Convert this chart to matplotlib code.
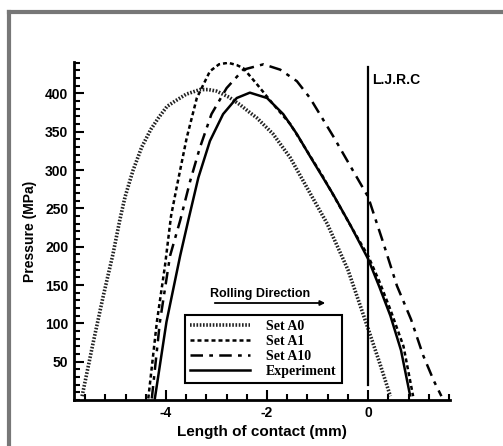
import matplotlib
matplotlib.use("Agg")
import matplotlib.pyplot as plt
from matplotlib.lines import Line2D
from matplotlib.ticker import MultipleLocator

plt.rcParams["axes.unicode_minus"] = False

# ---- data ----
a0_x = [-5.66, -5.45, -5.24, -5.05, -4.91, -4.81, -4.65, -4.48, -4.3, -4.15,
        -3.98, -3.82, -3.6, -3.33, -3.16, -3.0, -2.75, -2.53, -2.34, -2.2,
        -1.88, -1.54, -1.21, -0.81, -0.4, 0.0, 0.22, 0.44]
a0_y = [5, 72, 136, 190, 236, 265, 300, 330, 353, 368,
        383, 390, 399, 405, 405, 403, 395, 385, 375, 368,
        347, 316, 277, 230, 170, 93, 50, 5]

a1_x = [-4.35, -4.18, -4.02, -3.9, -3.79, -3.59, -3.39, -3.13, -2.95, -2.77,
        -2.6, -2.47, -2.2, -1.88, -1.54, -1.21, -0.9, -0.6, -0.3, 0.0,
        0.22, 0.44, 0.7, 0.89]
a1_y = [2, 102, 175, 240, 277, 342, 394, 429, 438, 440,
        437, 433, 412, 386, 360, 325, 292, 257, 222, 188,
        155, 118, 70, 5]

a10_x = [-4.28, -4.12, -3.92, -3.72, -3.52, -3.33, -3.1, -2.8, -2.47, -2.07,
         -1.74, -1.41, -1.15, -0.69, -0.35, 0.0, 0.3, 0.57, 0.85, 1.09,
         1.3, 1.45]
a10_y = [2, 102, 188, 234, 286, 329, 373, 407, 431, 438,
         431, 416, 394, 344, 305, 265, 205, 149, 105, 58,
         25, 5]

exp_x = [-4.22, -3.99, -3.72, -3.56, -3.36, -3.13, -2.87, -2.6, -2.34, -2.0,
         -1.68, -1.41, -1.15, -0.69, -0.35, 0.0, 0.22, 0.44, 0.65, 0.83]
exp_y = [2, 102, 188, 234, 290, 338, 373, 394, 401, 394,
         373, 347, 318, 268, 228, 184, 148, 110, 65, 6]

ljrc_x = 0.0
ljrc_y = [19, 435]

labels = ["Set A0", "Set A1", "Set A10", "Experiment"]
yticks = [50, 100, 150, 200, 250, 300, 350, 400]
xticks = [-4, -2, 0]

W, H = 503, 446
fig = plt.figure(figsize=(W / 100, H / 100), dpi=100)
ax = fig.add_axes([74 / W, 1 - 400 / H, (450 - 74) / W, (400 - 62) / H])

sans = "Liberation Sans"
serif = "Liberation Serif"

ST_A0 = dict(color="#222", lw=2.6, ls=(0, (0.45, 0.45)))
ST_A1 = dict(color="black", lw=1.8, ls=(0, (1.6, 1.2)))
ST_A10 = dict(color="black", lw=1.8, ls=(0, (5, 2.5, 1.5, 2.5)))
ST_EXP = dict(color="black", lw=1.8)

ax.plot(a0_x, a0_y, **ST_A0)
ax.plot(a1_x, a1_y, **ST_A1)
ax.plot(a10_x, a10_y, **ST_A10)
ax.plot(exp_x, exp_y, **ST_EXP)
ax.plot([ljrc_x, ljrc_x], ljrc_y, color="black", lw=1.6)
ax.text(0.08, 418, "L.J.R.C", fontsize=10, fontweight="bold", family=sans,
        va="center", ha="left")

ax.set_xlim(-5.82, 1.62)
ax.set_ylim(0, 441)
ax.set_xticks(xticks)
ax.set_yticks(yticks)
ax.xaxis.set_minor_locator(MultipleLocator(0.4))
ax.yaxis.set_minor_locator(MultipleLocator(10))
ax.tick_params(which="both", direction="in", width=1.5, top=False, right=False)
ax.tick_params(which="major", length=7, labelsize=10, pad=4)
ax.tick_params(which="minor", length=4)
for t in ax.get_xticklabels() + ax.get_yticklabels():
    t.set_fontweight("bold")
    t.set_family(sans)
ax.spines["top"].set_visible(False)
ax.spines["right"].set_visible(False)
ax.spines["left"].set_linewidth(2)
ax.spines["bottom"].set_linewidth(2)

ax.set_xlabel("Length of contact (mm)", fontsize=11, fontweight="bold",
              family=sans, labelpad=4)
ax.set_ylabel("Pressure (MPa)", fontsize=10, fontweight="bold",
              family=sans, labelpad=6)

handles = [Line2D([], [], **ST_A0), Line2D([], [], **ST_A1),
           Line2D([], [], **ST_A10), Line2D([], [], **ST_EXP)]
leg = ax.legend(handles, labels, loc="lower left",
                bbox_to_anchor=(185 / W, 1 - 383 / H), bbox_transform=fig.transFigure,
                prop={"family": serif, "weight": "bold", "size": 10},
                frameon=True, fancybox=False, edgecolor="black", framealpha=1,
                handlelength=4.3, handletextpad=1.2, labelspacing=0.15,
                borderpad=0.35, borderaxespad=0)
leg.get_frame().set_linewidth(1.5)

fig.text(260 / W, 1 - 294 / H, "Rolling Direction", fontsize=9, fontweight="bold",
         family=sans, ha="center", va="center")
ax.annotate("", xy=(328 / W, 1 - 303 / H), xytext=(212 / W, 1 - 303 / H),
            xycoords="figure fraction", textcoords="figure fraction",
            arrowprops=dict(arrowstyle="-|>", lw=1.3, color="black",
                            mutation_scale=7))

# scanned frame around the page
fig.add_artist(Line2D([9 / W, 1.0], [1 - 12 / H, 1 - 12 / H], color="#777",
                      lw=3, transform=fig.transFigure))
fig.add_artist(Line2D([9 / W, 9 / W], [0, 1 - 12 / H], color="#777",
                      lw=3, transform=fig.transFigure))

fig.savefig("out.png", dpi=100)
